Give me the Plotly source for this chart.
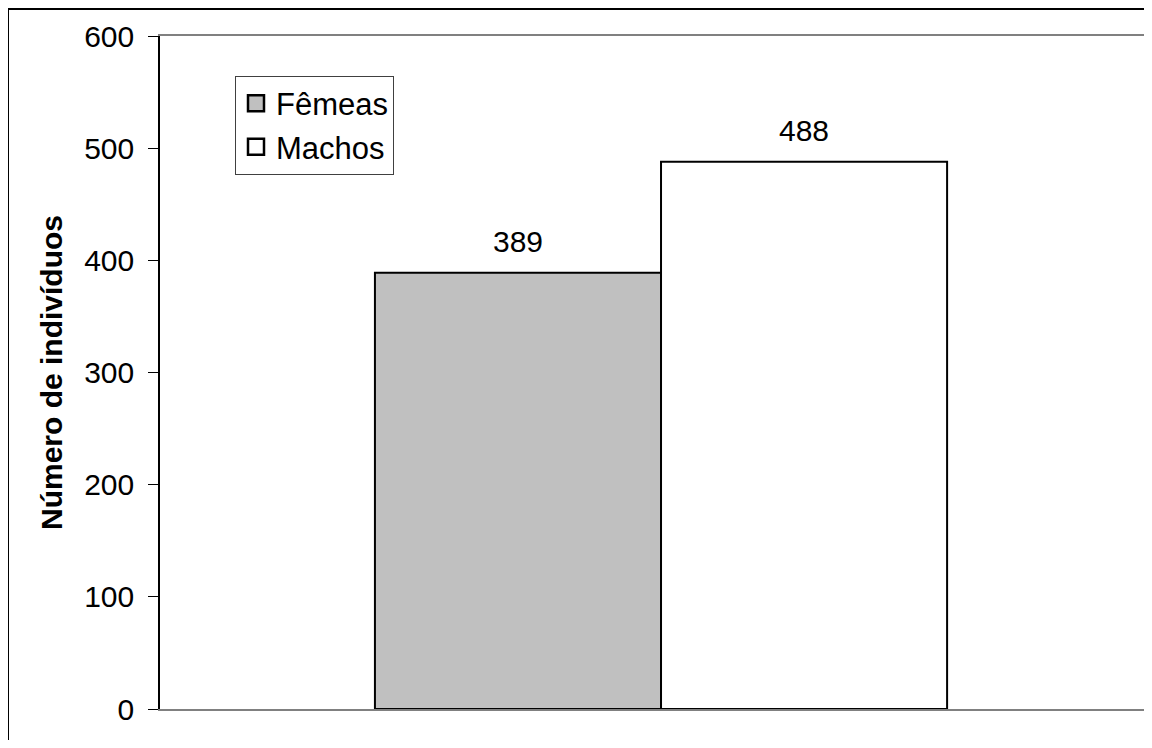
import plotly.graph_objects as go

series_names = ["Fêmeas", "Machos"]
values = [389, 488]
colors = ["#C0C0C0", "#FFFFFF"]
y_ticks = [0, 100, 200, 300, 400, 500, 600]
y_title = "Número de indivíduos"

FONT = "Liberation Sans, Arial, sans-serif"
FS = 30
bargap = 0.429
bar_w = (1 - bargap) / len(values)

fig = go.Figure()
for i, (name, v, c) in enumerate(zip(series_names, values, colors)):
    fig.add_trace(go.Bar(
        x=[0], y=[v], name=name, showlegend=False,
        marker=dict(color=c, line=dict(color="black", width=2)),
        hoverinfo="skip",
    ))
    center = -bar_w / 2 * (len(values) - 1) + i * bar_w
    fig.add_annotation(
        x=center, y=v, text=str(v), showarrow=False,
        yanchor="bottom", yshift=13,
        font=dict(family=FONT, size=FS, color="black"),
    )
    # legend proxy with a larger square swatch
    fig.add_trace(go.Scatter(
        x=[None], y=[None], mode="markers", name=name, legendgroup=name,
        marker=dict(symbol="square", size=16, color=c,
                    line=dict(color="black", width=2.5)),
        hoverinfo="skip",
    ))

top_y = (701 - 1) / 673
left_x = -152 / 984

fig.update_layout(
    width=1136, height=732,
    margin=dict(l=152, r=0, t=28, b=31),
    paper_bgcolor="white", plot_bgcolor="white",
    barmode="group", bargap=bargap, bargroupgap=0,
    font=dict(family=FONT, size=FS, color="black"),
    showlegend=True,
    legend=dict(
        x=75 / 984, y=0.941, xanchor="left", yanchor="top",
        bgcolor="white", bordercolor="#404040", borderwidth=1,
        font=dict(family=FONT, size=31, color="black"),
        tracegroupgap=0, itemwidth=30, itemsizing="trace",
    ),
    xaxis=dict(
        range=[-0.5, 0.482], showticklabels=False, ticks="",
        showgrid=False, zeroline=False, showline=True,
        linecolor="#808080", linewidth=2, mirror=True,
    ),
    yaxis=dict(
        range=[0, 600], tickvals=y_ticks, ticks="outside", ticklen=10,
        tickcolor="black", tickwidth=1, ticklabelstandoff=8,
        showgrid=False, zeroline=False, showline=True,
        linecolor="black", linewidth=1.5,
        tickfont=dict(family=FONT, size=FS, color="black"),
        title=dict(text="<b>" + y_title + "</b>", standoff=13,
                   font=dict(family=FONT, size=FS, color="black")),
    ),
    shapes=[
        dict(type="line", xref="paper", yref="paper",
             x0=left_x, x1=1.05, y0=top_y, y1=top_y,
             line=dict(color="black", width=2)),
        dict(type="line", xref="paper", yref="paper",
             x0=left_x, x1=left_x, y0=-0.1, y1=top_y,
             line=dict(color="black", width=2)),
    ],
)

fig.write_html("out.html")
